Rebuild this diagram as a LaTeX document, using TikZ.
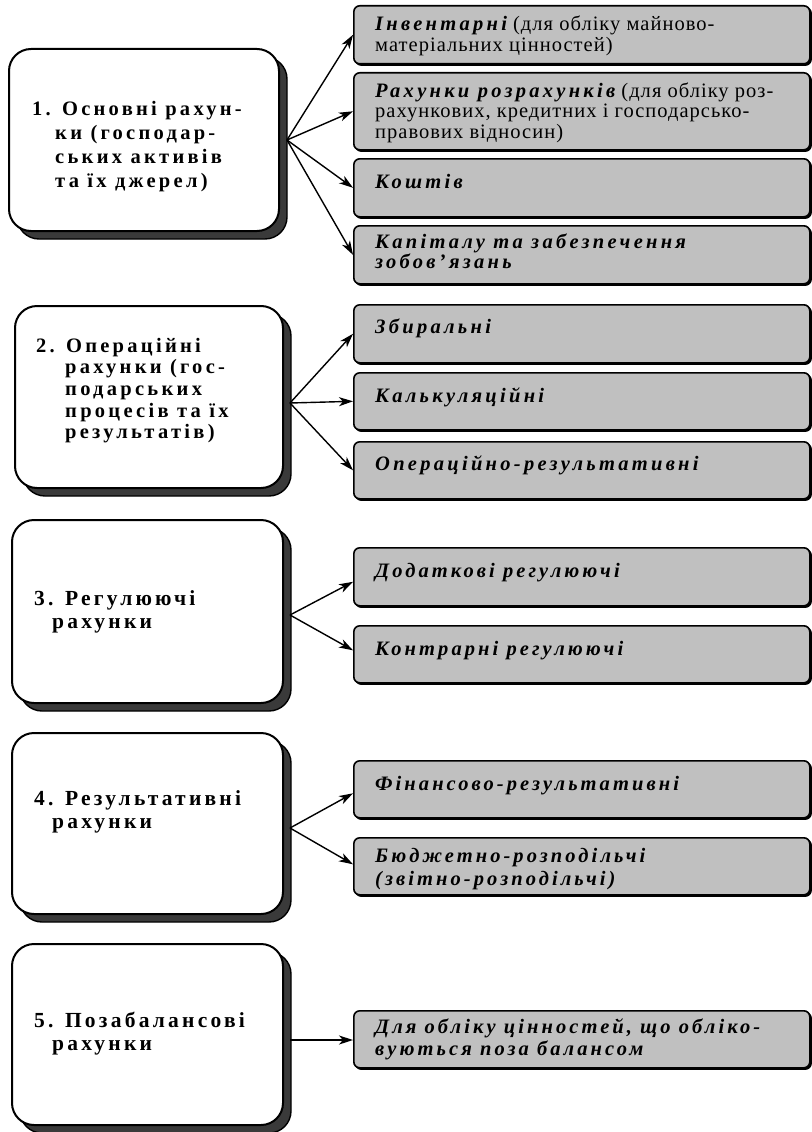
\documentclass[tikz,border=0pt]{standalone}
\usepackage{fontspec}
\setmainfont{Liberation Serif}
\newfontfamily\lfont[LetterSpace=16]{Liberation Serif}
\newfontfamily\lcfont[LetterSpace=15]{Liberation Serif}
\newfontfamily\rnfont[LetterSpace=16]{Liberation Serif}
\newfontfamily\rpfont[LetterSpace=5]{Liberation Serif}
\newfontfamily\rcfont[LetterSpace=15]{Liberation Serif}
\usetikzlibrary{arrows.meta,shadows}
\definecolor{boxgray}{RGB}{192,192,192}
\definecolor{shadowc}{RGB}{58,58,58}
\newcommand\mylines[1]{\begin{tabular}[t]{@{}l@{}}#1\end{tabular}}
\newcommand\nm[1]{{\rnfont\bfseries\itshape #1}}
\newcommand\cnm[1]{{\rcfont\bfseries\itshape #1}}
\begin{document}
\begin{tikzpicture}[x=1pt,y=-1pt,
  lbox/.style={draw=black, line width=2pt, fill=white, rounded corners=22pt,
    anchor=north west, inner sep=0pt, minimum width=270pt,
    general shadow={shadow xshift=8pt, shadow yshift=-8pt, fill=shadowc, draw=black, line width=1.4pt}},
  rbox/.style={draw=black, line width=1.6pt, fill=boxgray, rounded corners=6pt,
    anchor=north west, inner sep=0pt, minimum width=456pt,
    general shadow={shadow xshift=1.5pt, shadow yshift=-1.5pt, fill=black, draw=black, line width=1.2pt}},
  ltxt/.style={anchor=base west, inner sep=0pt, font=\lfont\bfseries\fontsize{20.5}{24}\selectfont},
  lctxt/.style={anchor=base west, inner sep=0pt, font=\lcfont\bfseries\fontsize{21.5}{23}\selectfont},
  rtxt/.style={anchor=base west, inner sep=0pt, font=\rpfont\fontsize{20.5}{20.5}\selectfont},
  rctxt/.style={anchor=base west, inner sep=0pt, font=\rpfont\fontsize{20.5}{25}\selectfont},
  arr/.style={-{Stealth[length=14pt,width=9pt,inset=4pt]}, line width=1.4pt}]
\useasboundingbox (0,0) rectangle (811,1132);

% left boxes
\node[lbox, minimum height=182pt] (L1) at (8,48) {};
\node[lbox, minimum height=182pt, minimum width=268pt] (L2) at (14,305) {};
\node[lbox, minimum height=183pt, minimum width=271pt] (L3) at (11,519) {};
\node[lbox, minimum height=181pt, minimum width=271pt] (L4) at (11,732) {};
\node[lbox, minimum height=181pt, minimum width=271pt] (L5) at (11,943) {};

\node[ltxt] (T1) at (32,115) {\mylines{1. Основні рахун-\\\hspace*{23pt}ки (господар-\\\hspace*{23pt}ських активів\\\hspace*{23pt}та їх джерел)}};
\node[ltxt, font=\lfont\bfseries\fontsize{20.5}{21.7}\selectfont] (T2) at (36,352) {\mylines{2. Операційні\\\hspace*{29pt}рахунки (гос-\\\hspace*{29pt}подарських\\\hspace*{29pt}процесів та їх\\\hspace*{29pt}результатів)}};
\node[lctxt] (T3) at (34,605) {\mylines{3. Регулюючі\\\hspace*{18pt}рахунки}};
\node[lctxt] (T4) at (34,805) {\mylines{4. Результативні\\\hspace*{18pt}рахунки}};
\node[lctxt] (T5) at (34,1027) {\mylines{5. Позабалансові\\\hspace*{18pt}рахунки}};

% right boxes
\node[rbox, minimum height=58pt] (R1a) at (353,5) {};
\node[rbox, minimum height=77pt] (R1b) at (353,72) {};
\node[rbox, minimum height=58pt] (R1c) at (353,158) {};
\node[rbox, minimum height=58pt] (R1d) at (353,225) {};
\node[rbox, minimum height=58pt] (R2a) at (353,304) {};
\node[rbox, minimum height=57pt] (R2b) at (353,372) {};
\node[rbox, minimum height=57pt] (R2c) at (353,441) {};
\node[rbox, minimum height=58pt] (R3a) at (353,547) {};
\node[rbox, minimum height=57pt] (R3b) at (353,625) {};
\node[rbox, minimum height=57pt] (R4a) at (353,760) {};
\node[rbox, minimum height=57pt] (R4b) at (353,837) {};
\node[rbox, minimum height=57pt] (R5a) at (353,1010) {};

\node[rtxt] (S1a) at (375,31) {\mylines{\nm{Інвентарні} (для обліку майново-\\матеріальних цінностей)}};
\node[rtxt] (S1b) at (375,97) {\mylines{\nm{Рахунки розрахунків} (для обліку роз-\\рахункових, кредитних і господарсько-\\правових відносин)}};
\node[rtxt] (S1c) at (375,188) {\nm{Коштів}};
\node[rtxt] (S1d) at (375,248) {\mylines{\nm{Капіталу та забезпечення}\\\nm{зобов’язань}}};
\node[rtxt] (S2a) at (375,333) {\nm{Збиральні}};
\node[rtxt] (S2b) at (375,402) {\nm{Калькуляційні}};
\node[rtxt] (S2c) at (375,470) {\nm{Операційно-результативні}};
\node[rctxt] (S3a) at (375,577) {\cnm{Додаткові регулюючі}};
\node[rctxt] (S3b) at (375,655) {\cnm{Контрарні регулюючі}};
\node[rctxt] (S4a) at (375,790) {\cnm{Фінансово-результативні}};
\node[rctxt, font=\rpfont\fontsize{20.5}{23}\selectfont] (S4b) at (375,862) {\mylines{\cnm{Бюджетно-розподільчі}\\\cnm{(звітно-розподільчі)}}};
\node[rctxt, font=\rpfont\fontsize{20.5}{22}\selectfont] (S5a) at (375,1033) {\mylines{\cnm{Для обліку цінностей, що обліко-}\\\cnm{вуються поза балансом}}};

% arrow origins
\coordinate (O1) at (287,140);
\coordinate (O2) at (290,403);
\coordinate (O3) at (290,615);
\coordinate (O4) at (290,828);
\coordinate (O5) at (290,1040);

\draw[arr] (O1) -- (R1a.west);
\draw[arr] (O1) -- (R1b.west);
\draw[arr] (O1) -- (R1c.west);
\draw[arr] (O1) -- (R1d.west);
\draw[arr] (O2) -- (R2a.west);
\draw[arr] (O2) -- (R2b.west);
\draw[arr] (O2) -- (R2c.west);
\draw[arr] (O3) -- ([yshift=-5pt]R3a.west);
\draw[arr] (O3) -- ([yshift=4pt]R3b.west);
\draw[arr] (O4) -- ([yshift=-4pt]R4a.west);
\draw[arr] (O4) -- ([yshift=2pt]R4b.west);
\draw[arr] (O5) -- (O5 -| R5a.west);
\end{tikzpicture}
\end{document}
